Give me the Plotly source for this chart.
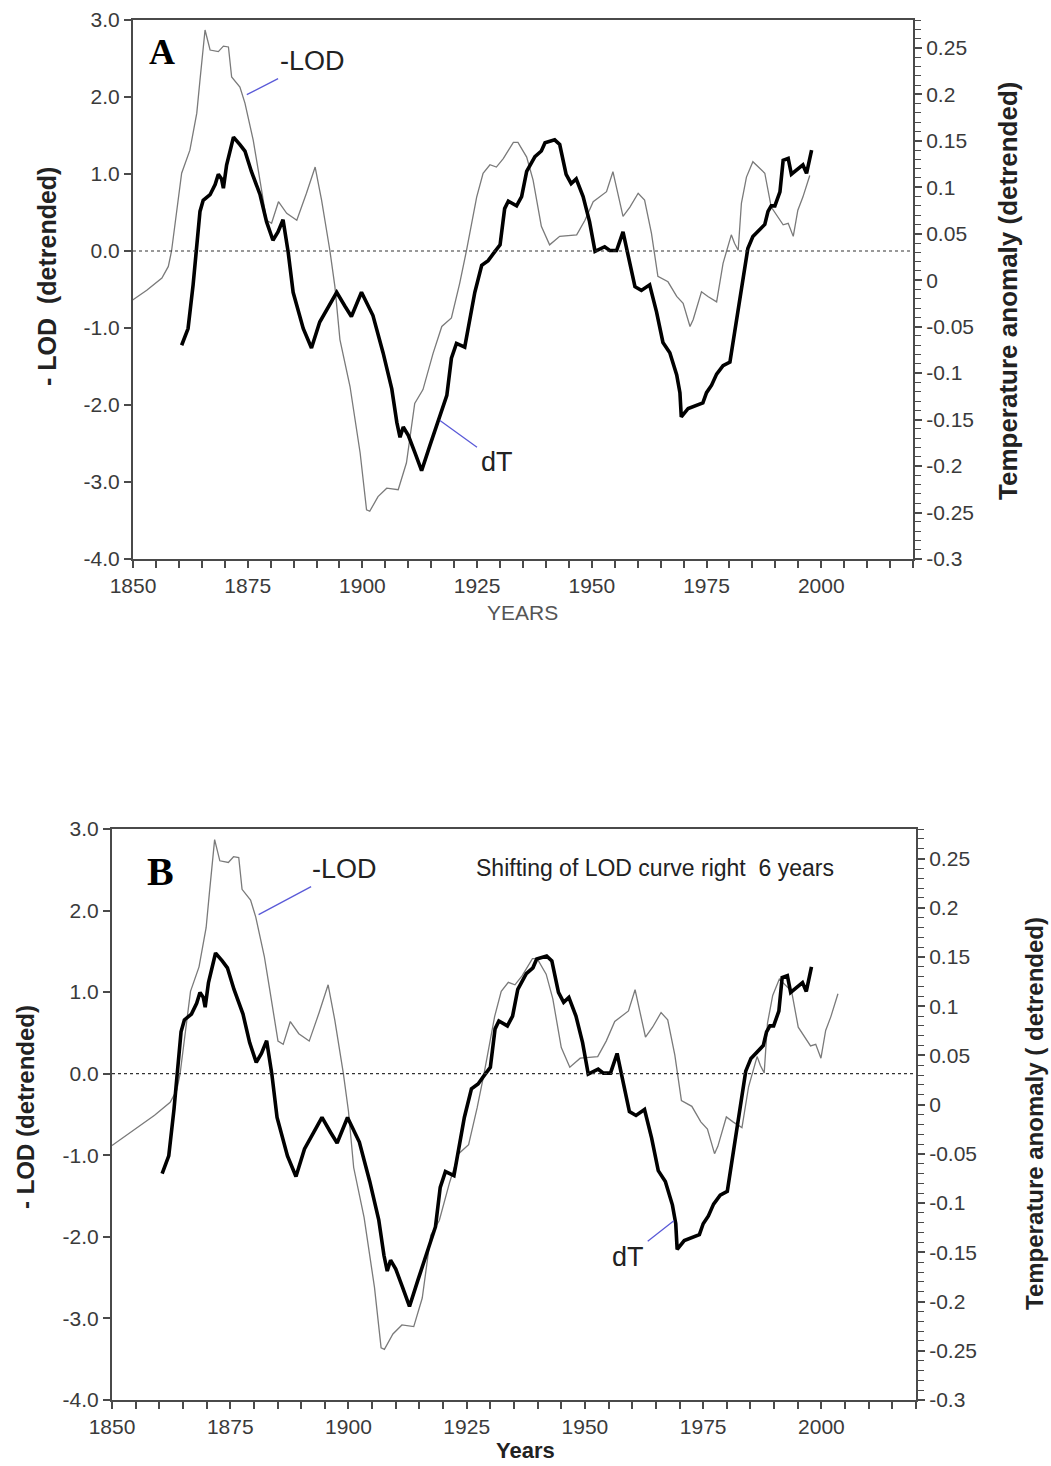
import plotly.graph_objects as go

# ---------------- data ----------------
# -LOD (detrended), left axis units, original years
lod_years = [1844, 1850, 1853.0, 1856.3, 1857.7, 1858.4, 1859.5, 1860.6, 1862.4, 1863.9,
             1864.6, 1865.7, 1866.8, 1868.6, 1869.7, 1870.8, 1871.5, 1873.3, 1874.4, 1876.2,
             1877.3, 1879.1, 1880.2, 1881.7, 1883.5, 1885.7, 1887.8, 1889.7, 1891.1, 1892.9,
             1894.0, 1895.1, 1897.3, 1899.5, 1900.9, 1901.6, 1903.4, 1905.3, 1907.8, 1909.6,
             1911.4, 1913.2, 1915.4, 1917.3, 1919.4, 1921.2, 1922.7, 1924.9, 1926.3, 1927.8,
             1929.2, 1930.7, 1932.9, 1933.9, 1935.8, 1937.2, 1939.0, 1940.8, 1943.0, 1946.7,
             1948.5, 1950.3, 1953.2, 1954.6, 1956.8, 1958.3, 1960.1, 1961.5, 1963.0, 1964.4,
             1966.6, 1968.5, 1969.9, 1971.4, 1972.1, 1973.9, 1975.3, 1977.2, 1978.6, 1980.4,
             1981.1, 1981.9, 1982.6, 1983.7, 1985.1, 1986.6, 1987.7, 1989.1, 1990.2, 1991.7,
             1992.8, 1993.9, 1994.9, 1996.0, 1997.5]
lod_values = [-0.88, -0.64, -0.51, -0.35, -0.20, 0.00, 0.49, 1.01, 1.31, 1.79,
              2.22, 2.87, 2.61, 2.59, 2.66, 2.65, 2.26, 2.13, 1.92, 1.44,
              1.05, 0.40, 0.36, 0.64, 0.49, 0.40, 0.75, 1.09, 0.66, 0.01,
              -0.46, -1.15, -1.76, -2.62, -3.36, -3.38, -3.19, -3.08, -3.10, -2.75,
              -1.98, -1.80, -1.33, -0.98, -0.87, -0.42, 0.01, 0.70, 1.01, 1.12,
              1.09, 1.20, 1.41, 1.41, 1.22, 0.92, 0.32, 0.08, 0.19, 0.21,
              0.40, 0.64, 0.77, 1.03, 0.45, 0.57, 0.75, 0.66, 0.23, -0.33,
              -0.40, -0.59, -0.68, -0.98, -0.89, -0.53, -0.59, -0.66, -0.16, 0.21,
              0.10, 0.01, 0.62, 0.96, 1.16, 1.07, 1.01, 0.57, 0.47, 0.34,
              0.36, 0.19, 0.53, 0.70, 0.98]

# dT temperature anomaly (detrended), right axis units
dt_years = [1860.6, 1862.0, 1863.1, 1863.9, 1864.6, 1865.3,
            1866.8, 1867.9, 1868.6, 1869.3, 1869.7, 1870.4,
            1871.9, 1873.3, 1874.4, 1875.8, 1877.7, 1879.1,
            1880.5, 1881.6, 1882.7, 1883.8, 1884.9, 1887.1,
            1888.9, 1890.7, 1892.5, 1894.4, 1896.2, 1897.6,
            1899.8, 1902.3, 1904.5, 1906.4, 1907.5, 1908.2,
            1908.9, 1910.0, 1911.4, 1912.9, 1914.7, 1916.5,
            1918.4, 1919.4, 1920.5, 1922.3, 1923.1, 1924.5,
            1926.0, 1927.4, 1928.9, 1930.0, 1931.0, 1931.8,
            1933.6, 1934.7, 1935.8, 1937.6, 1939.0, 1939.8,
            1941.9, 1943.0, 1944.4, 1945.5, 1946.6, 1948.1,
            1949.5, 1950.7, 1952.8, 1953.9, 1955.4, 1956.8,
            1957.9, 1959.4, 1960.8, 1962.6, 1964.1, 1965.5,
            1967.0, 1968.5, 1969.2, 1969.5, 1971.0, 1972.8,
            1974.2, 1975.0, 1976.1, 1977.2, 1978.6, 1980.1,
            1981.1, 1981.9, 1983.0, 1984.0, 1985.1, 1986.6,
            1987.7, 1988.4, 1989.1, 1989.9, 1991.0, 1991.7,
            1992.8, 1993.5, 1994.9, 1996.0, 1996.8, 1997.9]
dt_values = [-0.070, -0.052, -0.005, 0.034, 0.074, 0.086,
             0.092, 0.103, 0.114, 0.109, 0.099, 0.124,
             0.154, 0.146, 0.139, 0.117, 0.092, 0.063,
             0.043, 0.052, 0.065, 0.031, -0.013, -0.052,
             -0.073, -0.045, -0.030, -0.013, -0.028, -0.039,
             -0.013, -0.038, -0.078, -0.117, -0.153, -0.169,
             -0.158, -0.167, -0.185, -0.205, -0.178, -0.153,
             -0.124, -0.084, -0.068, -0.072, -0.052, -0.013,
             0.016, 0.021, 0.031, 0.038, 0.077, 0.085,
             0.080, 0.090, 0.117, 0.133, 0.139, 0.148,
             0.151, 0.146, 0.114, 0.104, 0.109, 0.090,
             0.063, 0.031, 0.036, 0.032, 0.032, 0.052,
             0.027, -0.007, -0.011, -0.005, -0.034, -0.067,
             -0.078, -0.102, -0.121, -0.147, -0.138, -0.135,
             -0.132, -0.121, -0.113, -0.101, -0.092, -0.088,
             -0.056, -0.034, 0.006, 0.034, 0.047, 0.055,
             0.060, 0.074, 0.080, 0.080, 0.095, 0.129,
             0.131, 0.114, 0.120, 0.124, 0.115, 0.140]

lod_shift_years = 6

x_tick_labels = ["1850", "1875", "1900", "1925", "1950", "1975", "2000"]
left_tick_labels = ["3.0", "2.0", "1.0", "0.0", "-1.0", "-2.0", "-3.0", "-4.0"]
right_tick_labels = ["0.25", "0.2", "0.15", "0.1", "0.05", "0", "-0.05", "-0.1",
                     "-0.15", "-0.2", "-0.25", "-0.3"]

# ---------------- styling ----------------
W, H = 1051, 1466
SANS = "Liberation Sans, Arial, Helvetica, sans-serif"
SERIF = "Liberation Serif, Times New Roman, serif"
AXC = "#4a4a4a"
TICKC = "#3a3a3a"
TICKFONT = dict(family=SANS, size=21, color=TICKC)
LEADER = "#5a5ad8"


def px(xp):
    return xp / W


def py(yp):
    return 1 - yp / H


fig = go.Figure()

lod_style = dict(color="#7a7a7a", width=1.3)
dt_style = dict(color="#000000", width=3.6)

# Panel A
fig.add_trace(go.Scatter(x=lod_years, y=lod_values, mode="lines", line=lod_style,
                         xaxis="x", yaxis="y", showlegend=False))
fig.add_trace(go.Scatter(x=dt_years, y=dt_values, mode="lines", line=dt_style,
                         xaxis="x", yaxis="y2", showlegend=False))
# Panel B (LOD shifted right)
fig.add_trace(go.Scatter(x=[v + lod_shift_years for v in lod_years], y=lod_values,
                         mode="lines", line=lod_style,
                         xaxis="x2", yaxis="y3", showlegend=False))
fig.add_trace(go.Scatter(x=dt_years, y=dt_values, mode="lines", line=dt_style,
                         xaxis="x2", yaxis="y4", showlegend=False))


def xaxis_def(domain, anchor):
    return dict(domain=domain, anchor=anchor, range=[1850, 2020], automargin=False,
                tickmode="array", tickvals=[float(s) for s in x_tick_labels],
                ticktext=x_tick_labels, ticks="outside", ticklen=7, tickwidth=1.5,
                tickcolor=AXC,
                minor=dict(tickmode="linear", tick0=1850, dtick=5, ticks="outside",
                           ticklen=7, tickwidth=1.5, tickcolor=AXC),
                showline=True, linecolor=AXC, linewidth=2, mirror=True,
                showgrid=False, zeroline=False, tickfont=TICKFONT, fixedrange=True)


def yleft_def(domain, anchor):
    return dict(domain=domain, anchor=anchor, range=[-4, 3], automargin=False,
                tickmode="array", tickvals=[float(s) for s in left_tick_labels],
                ticktext=left_tick_labels, ticks="outside", ticklen=7, tickwidth=1.5,
                tickcolor=AXC, showline=True, linecolor=AXC, linewidth=2,
                showgrid=False, zeroline=False, tickfont=TICKFONT)


def yright_def(overlay, anchor):
    return dict(overlaying=overlay, anchor=anchor, side="right", range=[-0.3, 0.28],
                automargin=False,
                tickmode="array", tickvals=[float(s) for s in right_tick_labels],
                ticktext=right_tick_labels, ticks="outside", ticklen=7, tickwidth=1.5,
                tickcolor=AXC,
                minor=dict(tickmode="linear", tick0=-0.3, dtick=0.01, ticks="outside",
                           ticklen=6, tickwidth=1.3, tickcolor=AXC),
                showline=True, linecolor=AXC, linewidth=2,
                showgrid=False, zeroline=False, tickfont=TICKFONT)


fig.update_layout(
    width=W, height=H,
    margin=dict(l=0, r=0, t=0, b=0, autoexpand=False),
    paper_bgcolor="white", plot_bgcolor="white",
    xaxis=xaxis_def([px(133), px(913)], "y"),
    yaxis=yleft_def([py(559), py(20)], "x"),
    yaxis2=yright_def("y", "x"),
    xaxis2=xaxis_def([px(112), px(916)], "y3"),
    yaxis3=yleft_def([py(1400), py(829)], "x2"),
    yaxis4=yright_def("y3", "x2"),
)

# dotted zero lines
for xr, yr in (("x domain", "y"), ("x2 domain", "y3")):
    fig.add_shape(type="line", xref=xr, yref=yr, x0=0, x1=1, y0=0, y1=0,
                  line=dict(color="#333333", width=1.2, dash="dot"))

ann = []
label_font = dict(family=SANS, size=27, color="#222222")


def paper_text(text, xp, yp, font, angle=0):
    return dict(text=text, x=px(xp), y=py(yp), xref="paper", yref="paper",
                xanchor="center", yanchor="middle", textangle=angle,
                showarrow=False, font=font)


def leader(text, x, y, xref, yref, ax, ay):
    return dict(text=text, x=x, y=y, xref=xref, yref=yref, ax=ax, ay=ay,
                xanchor="center", yanchor="middle",
                showarrow=True, arrowhead=0, arrowwidth=1.3, arrowcolor=LEADER,
                standoff=0, startstandoff=3, font=label_font)


# Panel A labels
ann.append(paper_text("<b>A</b>", 162, 52, dict(family=SERIF, size=36, color="#000")))
ann.append(leader("-LOD", 1874.8, 2.03, "x", "y", 66, -34))
ann.append(leader("dT", 1916.9, -0.151, "x", "y2", 57, 41))
ann.append(paper_text("YEARS", 522, 612, dict(family=SANS, size=21, color="#555555")))
ann.append(paper_text("<b>- LOD \u00a0(detrended)</b>", 47, 277,
                      dict(family=SANS, size=25, color="#222222"), -90))
ann.append(paper_text("<b>Temperature anomaly (detrended)</b>", 1008, 291,
                      dict(family=SANS, size=26, color="#222222"), -90))

# Panel B labels
ann.append(paper_text("<b>B</b>", 160, 871, dict(family=SERIF, size=40, color="#000")))
ann.append(leader("-LOD", 1881.0, 1.95, "x2", "y3", 86, -46))
ann.append(paper_text("Shifting of LOD curve right \u00a06 years", 655, 868,
                      dict(family=SANS, size=23, color="#222222")))
ann.append(leader("dT", 1968.8, -0.118, "x2", "y4", -46, 36))
ann.append(paper_text("<b>Years</b>", 525, 1450, dict(family=SANS, size=22, color="#222222")))
ann.append(paper_text("<b>- LOD (detrended)</b>", 25, 1107,
                      dict(family=SANS, size=24, color="#222222"), -90))
ann.append(paper_text("<b>Temperature anomaly ( detrended)</b>", 1034, 1114,
                      dict(family=SANS, size=24, color="#222222"), -90))

fig.update_layout(annotations=ann)

fig.write_html("out.html",
               config={"displayModeBar": False},
               post_script="document.body.style.margin='0';"
                           "document.body.style.overflow='hidden';")
